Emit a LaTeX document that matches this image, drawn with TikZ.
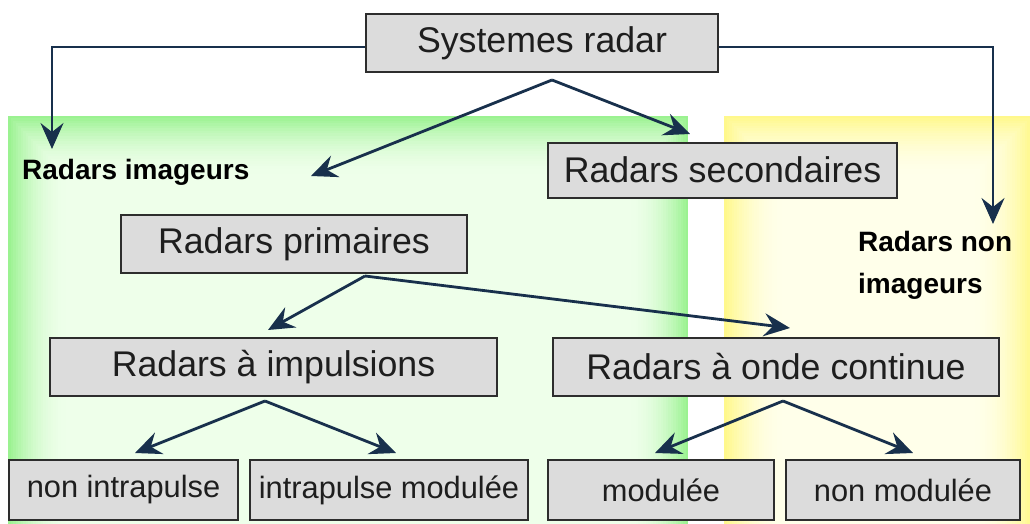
\documentclass[tikz,border=0pt]{standalone}
\usepackage{fontspec}
\setmainfont{Liberation Sans}
\usetikzlibrary{arrows.meta}
\definecolor{boxfill}{RGB}{220,220,220}
\definecolor{boxline}{RGB}{45,45,45}
\definecolor{arrowc}{RGB}{24,48,76}
\definecolor{gedge}{RGB}{155,242,145}
\definecolor{gin}{RGB}{238,255,234}
\definecolor{yedge}{RGB}{255,248,140}
\definecolor{yin}{RGB}{255,255,234}
\definecolor{txt}{RGB}{30,30,30}

\begin{document}
\begin{tikzpicture}[x=1pt,y=-1pt,
  box/.style={draw=boxline, line width=2pt, fill=boxfill, text=txt,
    minimum height=58pt, inner sep=0pt, font=\fontsize{35.7}{40}\selectfont},
  leaf/.style={box, minimum height=60pt, font=\fontsize{30.8}{36}\selectfont},
  group/.style={text=black, font=\bfseries\fontsize{28}{33}\selectfont,
    inner sep=0pt, align=left},
  link/.style={draw=arrowc, line width=2.8pt,
    -{Stealth[length=26pt,width=23pt,inset=9pt]}},
  elbow/.style={link, line width=2.2pt},
]
\useasboundingbox (0,0) rectangle (1030,524);

% soft-edged background panels: imaging radars (green), non-imaging (yellow)
\foreach \i in {0,...,24}{
  \pgfmathsetmacro\pp{100*(1-\i/24)^2}
  \pgfmathsetmacro\dd{\i*2.5}
  \fill[gedge!\pp!gin] (8+\dd,116+\dd) rectangle (688-\dd,660-\dd);
  \fill[yedge!\pp!yin] (724+\dd,116+\dd) rectangle (1032-\dd,660-\dd);
}

% boxes
\node[box, minimum width=352pt] (sys) at (542,43) {Systemes radar};
\node[box, minimum width=349pt, minimum height=55pt] (sec) at (722.5,170) {Radars secondaires};
\node[box, minimum width=346pt] (prim) at (294,244) {Radars primaires};
\node[box, minimum width=447pt] (imp) at (273.5,367) {Radars à impulsions};
\node[box, minimum width=446pt] (cw) at (776,367) {Radars à onde continue};
\node[leaf, minimum width=229pt] (nip) at (123.5,490) {non intrapulse};
\node[leaf, minimum width=278pt] (ipm) at (389,490) {intrapulse modulée};
\node[leaf, minimum width=226pt] (mod) at (661,490) {modulée};
\node[leaf, minimum width=234pt] (nmod) at (903,490) {non modulée};

% group labels
\node[group, anchor=base west] (img) at (22,179) {Radars imageurs};
\node[group, anchor=north west] (nimg) at (858,231) {Radars non\\[9pt]imageurs};

% branching points under the boxes
\coordinate (s0) at (552,80);
\coordinate (p0) at (365,276);
\coordinate (i0) at (265,401);
\coordinate (c0) at (783,401);
% arrow tips
\coordinate (timg) at (52,149);
\coordinate (tnimg) at (993,224);
\coordinate (tprim) at (311,176);
\coordinate (tsec) at (690,134);
\coordinate (timp) at (268,330);
\coordinate (tcw) at (790,328);
\coordinate (tnip) at (135,453);
\coordinate (tipm) at (396,453);
\coordinate (tmod) at (655,453);
\coordinate (tnmod) at (913,453);

% connectors
\draw[elbow] (sys.west |- 0,47) -| (timg);
\draw[elbow] (sys.east |- 0,47) -| (tnimg);
\draw[link] (s0) -- (tprim);
\draw[link] (s0) -- (tsec);
\draw[link] (p0) -- (timp);
\draw[link] (p0) -- (tcw);
\draw[link] (i0) -- (tnip);
\draw[link] (i0) -- (tipm);
\draw[link] (c0) -- (tmod);
\draw[link] (c0) -- (tnmod);
\end{tikzpicture}
\end{document}
